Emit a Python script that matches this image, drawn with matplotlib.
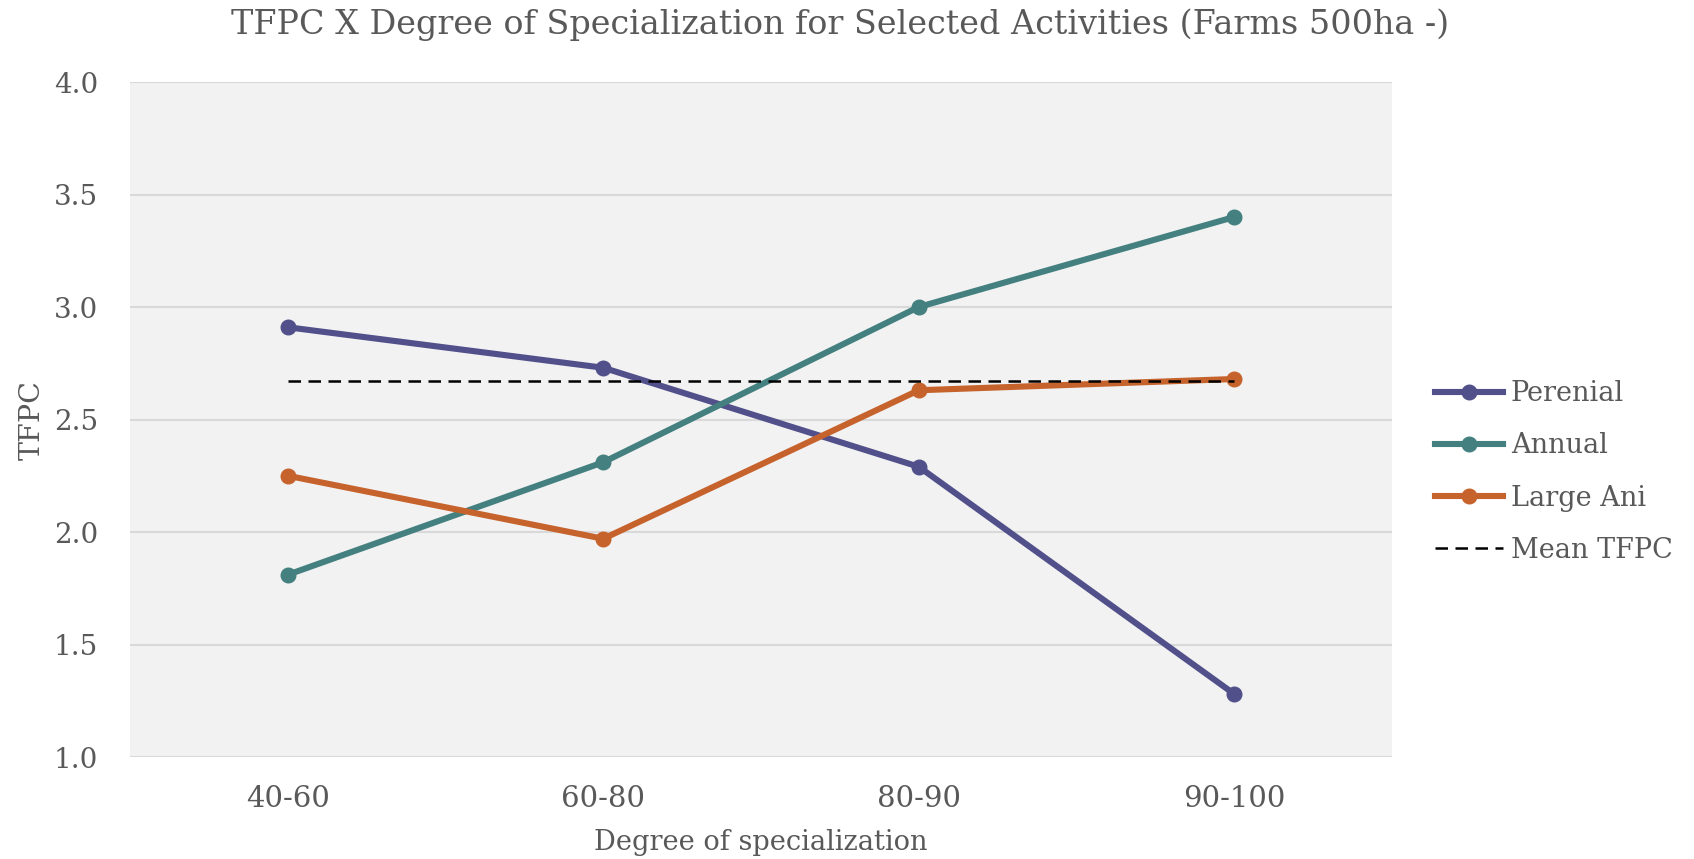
import matplotlib
matplotlib.use("Agg")
import matplotlib.pyplot as plt

categories = ["40-60", "60-80", "80-90", "90-100"]
perenial = [2.91, 2.73, 2.29, 1.28]
annual = [1.81, 2.31, 3.00, 3.40]
large_ani = [2.25, 1.97, 2.63, 2.68]
mean_tfpc = [2.67, 2.67, 2.67, 2.67]
yticks = [1.0, 1.5, 2.0, 2.5, 3.0, 3.5, 4.0]

plt.rcParams['font.family'] = ['DejaVu Serif']
txt = '#595959'

fig = plt.figure(figsize=(16.94, 8.59), dpi=100)
ax = fig.add_axes([130/1694, 1 - 757/859, (1392-130)/1694, (757-82)/859])
ax.set_facecolor('#f2f2f2')
x = list(range(len(categories)))

ax.plot(x, perenial, color='#51508a', lw=4.4, marker='o', ms=10.5, label='Perenial', zorder=3)
ax.plot(x, annual, color='#43807f', lw=4.4, marker='o', ms=10.5, label='Annual', zorder=3)
ax.plot(x, large_ani, color='#c6632c', lw=4.4, marker='o', ms=10.5, label='Large Ani', zorder=3)
ax.plot(x, mean_tfpc, color='black', lw=1.8, ls=(0, (5, 3)), label='Mean TFPC', zorder=4)

ax.set_xlim(-0.5, 3.5)
ax.set_ylim(1.0, 4.0)
ax.set_yticks(yticks)
ax.set_yticklabels([f"{v:.1f}" for v in yticks])
ax.set_xticks(x)
ax.set_xticklabels(categories)
ax.grid(axis='y', color='#d9d9d9', lw=1.5)
ax.set_axisbelow(True)
for s in ax.spines.values():
    s.set_visible(False)
ax.tick_params(length=0, colors=txt, labelsize=20)
ax.tick_params(axis='x', labelsize=21, pad=20)
ax.tick_params(axis='y', pad=23)

ax.set_xlabel('Degree of specialization', fontsize=19.6, color=txt, labelpad=12)
ax.set_ylabel('TFPC', fontsize=20.5, color=txt, labelpad=6)
fig.suptitle('TFPC X Degree of Specialization for Selected Activities (Farms 500ha -)',
             fontsize=24, color=txt, x=840/1694, y=1 - 8/859, va='top')

leg = ax.legend(loc='center left', bbox_to_anchor=((1435-130)/1262, (757-472)/675),
                frameon=False, borderpad=0, borderaxespad=0,
                fontsize=19.5, labelcolor=txt, handlelength=2.5, handletextpad=0.3,
                labelspacing=0.93)

fig.savefig('out.png', dpi=100, facecolor='white')
